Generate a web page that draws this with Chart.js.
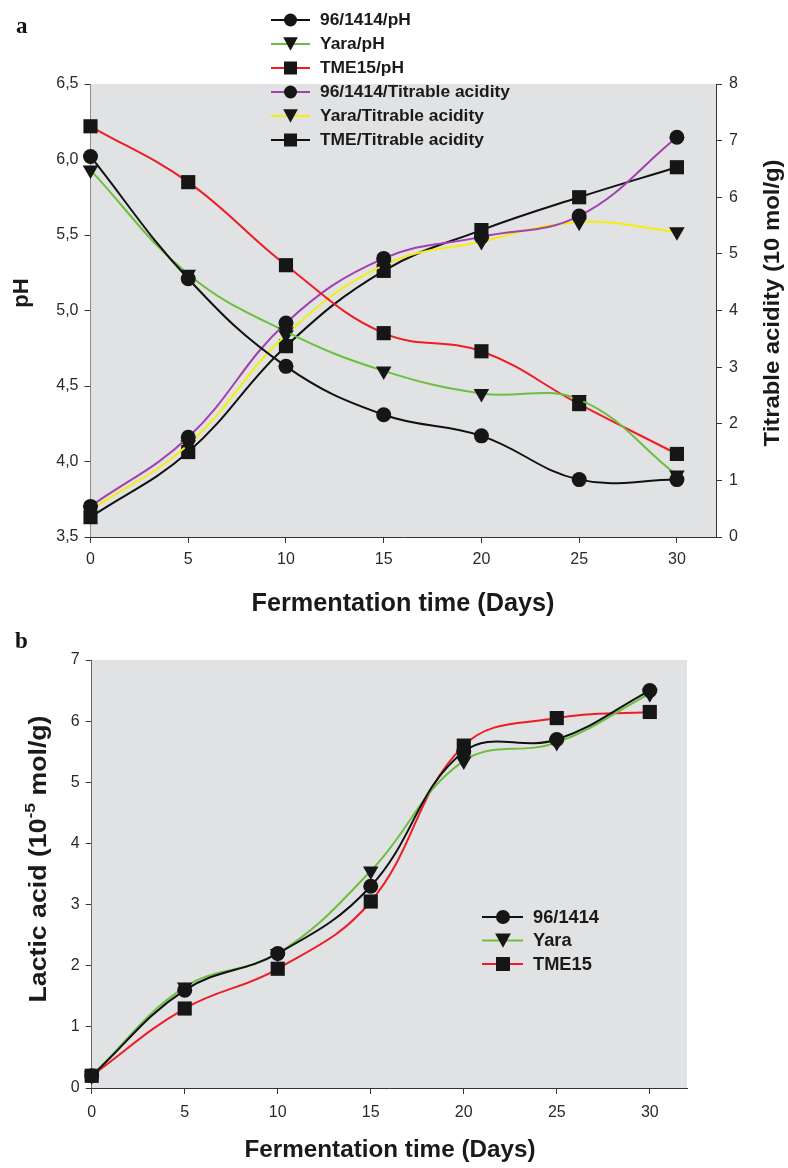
<!DOCTYPE html>
<html>
<head>
<meta charset="utf-8">
<script src="https://cdn.jsdelivr.net/npm/chart.js@4/dist/chart.umd.min.js"></script>
<style>
body{margin:0;background:#fff;}
#wrap{position:relative;width:788px;height:1168px;}
canvas{position:absolute;left:0;}
</style>
</head>
<body>
<div id="wrap">
<canvas id="ca" width="788" height="620" style="top:0;width:788px;height:620px"></canvas>
<canvas id="cb" width="788" height="548" style="top:620px;width:788px;height:548px"></canvas>
</div>
<script>
// ---------- data ----------
const days = [0, 5, 10, 15, 20, 25, 30];
const xTicks = [0, 5, 10, 15, 20, 25, 30];
const phTicks = [3.5, 4.0, 4.5, 5.0, 5.5, 6.0, 6.5];
const taTicks = [0, 1, 2, 3, 4, 5, 6, 7, 8];
const laTicks = [0, 1, 2, 3, 4, 5, 6, 7];

const ph9614  = [6.02, 5.21, 4.63, 4.31, 4.17, 3.88, 3.88];
const phYara  = [5.93, 5.24, 4.86, 4.60, 4.45, 4.41, 3.91];
const phTME15 = [6.22, 5.85, 5.30, 4.85, 4.73, 4.38, 4.05];
const ta9614  = [0.54, 1.76, 3.78, 4.92, 5.30, 5.67, 7.06];
const taYara  = [0.48, 1.63, 3.57, 4.80, 5.22, 5.56, 5.39];
const taTME   = [0.35, 1.50, 3.37, 4.70, 5.42, 6.00, 6.53];

const la9614  = [0.20, 1.60, 2.20, 3.30, 5.50, 5.70, 6.50];
const laYara  = [0.20, 1.65, 2.20, 3.55, 5.35, 5.65, 6.45];
const laTME15 = [0.20, 1.30, 1.95, 3.05, 5.60, 6.05, 6.15];

const labelsA = ['96/1414/pH', 'Yara/pH', 'TME15/pH', '96/1414/Titrable acidity', 'Yara/Titrable acidity', 'TME/Titrable acidity'];
const labelsB = ['96/1414', 'Yara', 'TME15'];

// ---------- styles ----------
const C_BLACK = '#111111', C_GREEN = '#6cbf3f', C_RED = '#ee1d25', C_PURPLE = '#a33fb0', C_YELLOW = '#f4ee10';
const MARK = '#161616';
const PLOT_BG = '#e1e2e4';
const AXIS = '#333333';
const FONT = "'Liberation Sans', Arial, sans-serif";

function pts(arr){ return days.map((d,i)=>({x:d, y:arr[i]})); }

function ds(label, data, color, shape, axis){
  let style = 'circle', rot = 0, r = 7.5;
  if (shape === 'tri'){ style = 'triangle'; rot = 180; r = 9; }
  if (shape === 'sq'){ style = 'rect'; r = 10; }
  return {
    label, data: pts(data), yAxisID: axis,
    borderColor: color, borderWidth: 2, backgroundColor: MARK,
    pointBackgroundColor: MARK, pointBorderColor: MARK, pointBorderWidth: 0,
    pointStyle: style, pointRotation: rot, pointRadius: r, pointHoverRadius: r,
    tension: 0.4, clip: false, fill: false,
    _shape: shape
  };
}

function drawMarker(ctx, shape, x, y, size){
  ctx.fillStyle = MARK;
  ctx.beginPath();
  if (shape === 'circle'){ ctx.arc(x, y, size/2, 0, Math.PI*2); }
  else if (shape === 'sq'){ ctx.rect(x - size/2, y - size/2, size, size); }
  else { const h = size*0.95; ctx.moveTo(x - size/2*1.05, y - h/2); ctx.lineTo(x + size/2*1.05, y - h/2); ctx.lineTo(x, y + h/2); ctx.closePath(); }
  ctx.fill();
}

function fitText(ctx, text, cx, cy, font, targetW, rot){
  ctx.save();
  ctx.font = font;
  const w = ctx.measureText(text).width;
  const s = targetW ? targetW / w : 1;
  ctx.translate(cx, cy);
  ctx.rotate(rot || 0);
  ctx.scale(s, 1);
  ctx.textAlign = 'center';
  ctx.textBaseline = 'middle';
  ctx.fillStyle = '#1a1a1a';
  ctx.fillText(text, 0, 0);
  ctx.restore();
}

const bgPlugin = {
  id: 'bg',
  beforeDatasetsDraw(chart){
    const a = chart.chartArea, ctx = chart.ctx;
    ctx.save(); ctx.fillStyle = PLOT_BG;
    ctx.fillRect(a.left, a.top, a.right - a.left, a.bottom - a.top);
    ctx.restore();
  },
  beforeDraw(chart){
    const a = chart.chartArea, ctx = chart.ctx;
    ctx.save(); ctx.fillStyle = PLOT_BG;
    ctx.fillRect(a.left, a.top, a.right - a.left, a.bottom - a.top);
    ctx.restore();
  }
};

function axisCfg(extra){
  return Object.assign({
    type: 'linear',
    grid: { display: true, drawOnChartArea: false, drawTicks: true, tickLength: 6, color: AXIS, lineWidth: 1 },
    border: { display: true, color: AXIS, width: 1 },
    ticks: { color: '#2a2a2a', font: { family: FONT, size: 16 } }
  }, extra);
}

// ---------- chart a ----------
const dsA = [
  ds(labelsA[0], ph9614, C_BLACK, 'circle', 'y'),
  ds(labelsA[1], phYara, C_GREEN, 'tri', 'y'),
  ds(labelsA[2], phTME15, C_RED, 'sq', 'y'),
  ds(labelsA[3], ta9614, C_PURPLE, 'circle', 'y1'),
  ds(labelsA[4], taYara, C_YELLOW, 'tri', 'y1'),
  ds(labelsA[5], taTME, C_BLACK, 'sq', 'y1')
];

const decoA = {
  id: 'decoA',
  afterDraw(chart){
    const ctx = chart.ctx;
    // panel letter
    ctx.save(); ctx.font = "bold 23px 'Liberation Serif', serif"; ctx.fillStyle = '#111';
    ctx.textBaseline = 'middle'; ctx.fillText('a', 16, 27); ctx.restore();
    // axis titles
    fitText(ctx, 'Fermentation time (Days)', 403, 604, `bold 25px ${FONT}`, 303, 0);
    fitText(ctx, 'pH', 22, 293, `bold 22px ${FONT}`, 0, -Math.PI/2);
    fitText(ctx, 'Titrable acidity (10 mol/g)', 773, 303, `bold 22px ${FONT}`, 287, -Math.PI/2);
    // legend
    ctx.save();
    ctx.font = `bold 16px ${FONT}`;
    const sc = 190 / ctx.measureText(labelsA[3]).width;
    dsA.forEach((d, i) => {
      const y = 20 + i*24;
      ctx.strokeStyle = d.borderColor; ctx.lineWidth = 2;
      ctx.beginPath(); ctx.moveTo(271, y); ctx.lineTo(310, y); ctx.stroke();
      drawMarker(ctx, d._shape, 290.5, y, d._shape === 'tri' ? 14 : 13);
      ctx.save(); ctx.translate(320, y); ctx.scale(sc, 1);
      ctx.fillStyle = '#1a1a1a'; ctx.textBaseline = 'middle'; ctx.textAlign = 'left';
      ctx.fillText(d.label, 0, 1); ctx.restore();
    });
    ctx.restore();
  }
};

new Chart(document.getElementById('ca'), {
  type: 'line',
  data: { datasets: dsA },
  plugins: [bgPlugin, decoA],
  options: {
    responsive: false, animation: false, devicePixelRatio: 1,
    layout: { padding: { top: 84, left: 0, right: 0, bottom: 0 } },
    plugins: { legend: { display: false }, tooltip: { enabled: false } },
    scales: {
      x: axisCfg({
        position: 'bottom', min: 0, max: 32,
        afterBuildTicks: s => { s.ticks = xTicks.map(v => ({ value: v })); },
        afterFit: s => { s.height = 83; },
        ticks: { color: '#2a2a2a', font: { family: FONT, size: 16 }, padding: 7, maxRotation: 0, autoSkip: false }
      }),
      y: axisCfg({
        position: 'left', min: 3.5, max: 6.5,
        afterBuildTicks: s => { s.ticks = phTicks.map(v => ({ value: v })); },
        afterFit: s => { s.width = 90.5; },
        ticks: { color: '#2a2a2a', font: { family: FONT, size: 16 }, padding: 6,
                 callback: v => v.toFixed(1).replace('.', ',') }
      }),
      y1: axisCfg({
        position: 'right', min: 0, max: 8,
        afterBuildTicks: s => { s.ticks = taTicks.map(v => ({ value: v })); },
        afterFit: s => { s.width = 72; },
        ticks: { color: '#2a2a2a', font: { family: FONT, size: 16 }, padding: 7 }
      })
    }
  }
});

// ---------- chart b ----------
const dsB = [
  ds(labelsB[0], la9614, C_BLACK, 'circle', 'y'),
  ds(labelsB[1], laYara, C_GREEN, 'tri', 'y'),
  ds(labelsB[2], laTME15, C_RED, 'sq', 'y')
];

const decoB = {
  id: 'decoB',
  afterDraw(chart){
    const ctx = chart.ctx;
    ctx.save(); ctx.font = "bold 23px 'Liberation Serif', serif"; ctx.fillStyle = '#111';
    ctx.textBaseline = 'middle'; ctx.fillText('b', 15, 22); ctx.restore();
    fitText(ctx, 'Fermentation time (Days)', 390, 530, `bold 24px ${FONT}`, 291, 0);
    // y title with superscript
    ctx.save();
    ctx.translate(40, 239); ctx.rotate(-Math.PI/2);
    const big = `bold 23px ${FONT}`, small = `bold 15px ${FONT}`;
    const p1 = 'Lactic acid (10', p2 = '-5', p3 = ' mol/g)';
    ctx.font = big; const w1 = ctx.measureText(p1).width, w3 = ctx.measureText(p3).width;
    ctx.font = small; const w2 = ctx.measureText(p2).width;
    const tot = w1 + w2 + w3; const s = 287 / tot;
    ctx.scale(s, 1);
    ctx.fillStyle = '#1a1a1a'; ctx.textBaseline = 'middle'; ctx.textAlign = 'left';
    let x = -tot/2;
    ctx.font = big; ctx.fillText(p1, x, 0); x += w1;
    ctx.font = small; ctx.fillText(p2, x, -9); x += w2;
    ctx.font = big; ctx.fillText(p3, x, 0);
    ctx.restore();
    // legend
    ctx.save();
    ctx.font = `bold 18px ${FONT}`;
    const sc = 66 / ctx.measureText('96/1414').width;
    dsB.forEach((d, i) => {
      const y = 297 + i*23.5;
      ctx.strokeStyle = d.borderColor; ctx.lineWidth = 2;
      ctx.beginPath(); ctx.moveTo(482, y); ctx.lineTo(523, y); ctx.stroke();
      drawMarker(ctx, d._shape, 503, y, d._shape === 'tri' ? 15 : 14);
      ctx.save(); ctx.translate(533, y); ctx.scale(sc, 1);
      ctx.fillStyle = '#1a1a1a'; ctx.textBaseline = 'middle'; ctx.textAlign = 'left';
      ctx.fillText(d.label, 0, 1); ctx.restore();
    });
    ctx.restore();
  }
};

new Chart(document.getElementById('cb'), {
  type: 'line',
  data: { datasets: dsB },
  plugins: [bgPlugin, decoB],
  options: {
    responsive: false, animation: false, devicePixelRatio: 1,
    layout: { padding: { top: 40, left: 0, right: 101, bottom: 0 } },
    plugins: { legend: { display: false }, tooltip: { enabled: false } },
    scales: {
      x: axisCfg({
        position: 'bottom', min: 0, max: 32,
        afterBuildTicks: s => { s.ticks = xTicks.map(v => ({ value: v })); },
        afterFit: s => { s.height = 80; },
        ticks: { color: '#2a2a2a', font: { family: FONT, size: 16 }, padding: 9, maxRotation: 0, autoSkip: false }
      }),
      y: axisCfg({
        position: 'left', min: 0, max: 7,
        afterBuildTicks: s => { s.ticks = laTicks.map(v => ({ value: v })); },
        afterFit: s => { s.width = 91.7; },
        ticks: { color: '#2a2a2a', font: { family: FONT, size: 16 }, padding: 6 }
      })
    }
  }
});
</script>
</body>
</html>
